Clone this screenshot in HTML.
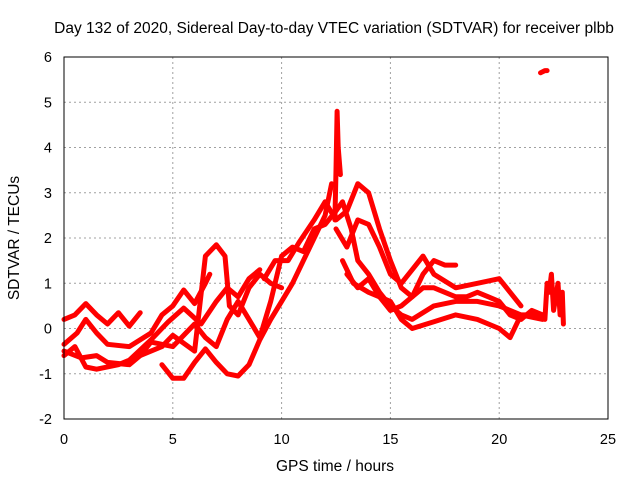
<!DOCTYPE html>
<html><head><meta charset="utf-8"><style>
body{margin:0;background:#fff;}
svg text{font-family:"Liberation Sans",sans-serif;fill:#000;}
</style></head><body>
<svg id="chart" width="640" height="480" xmlns="http://www.w3.org/2000/svg">
<text x="334" y="33" font-size="15.5" text-anchor="middle">Day 132 of 2020, Sidereal Day-to-day VTEC variation (SDTVAR) for receiver plbb</text>
<text x="335" y="471" font-size="15.5" text-anchor="middle">GPS time / hours</text>
<text x="0" y="0" font-size="15.5" text-anchor="middle" transform="translate(19,238) rotate(-90)">SDTVAR / TECUs</text>
<g id="grid"></g>
<g id="marks"></g>
<rect x="64" y="57" width="544" height="362" fill="none" stroke="#000" stroke-width="1"/>
<g id="ticks"></g>
</svg>
<script>
const xTicks=[0,5,10,15,20,25];
const yTicks=[-2,-1,0,1,2,3,4,5,6];
const t1=[[0,0.2],[0.5,0.3],[1,0.55],[1.5,0.3],[2,0.1],[2.5,0.35],[3,0.05],[3.5,0.35]];
const t2=[[0,-0.35],[0.6,-0.1],[1,0.2],[1.5,-0.1],[2,-0.35],[3,-0.4],[4,-0.1],[4.5,0.3],[5,0.5],[5.5,0.85],[6,0.55],[6.5,1.0],[6.7,1.2]];
const t3=[[0,-0.6],[0.5,-0.4],[1,-0.85],[1.5,-0.9],[2.5,-0.8],[3,-0.7],[4,-0.25],[4.8,0.15],[5.5,0.45],[6.3,0.1],[7,0.6],[7.5,0.9],[8,0.7],[8.5,1.1],[9,1.3]];
const t4=[[0,-0.5],[0.8,-0.65],[1.5,-0.6],[2,-0.75],[3,-0.8],[3.5,-0.6],[4.5,-0.4],[5,-0.15],[6,-0.5],[6.5,1.6],[7,1.85],[7.4,1.6],[7.6,0.5],[8,0.3],[8.5,0.9],[9,1.2],[9.5,1.0],[10,0.9]];
const t5=[[4.5,-0.8],[5,-1.1],[5.5,-1.1],[6,-0.75],[6.5,-0.45],[7,-0.75],[7.5,-1.0],[8,-1.05],[8.5,-0.8],[9,-0.25],[9.5,0.2],[10,0.6],[10.5,1.0],[11,1.5],[11.5,2.0],[12,2.5],[12.3,3.2]];
const t6=[[3.5,-0.6],[4,-0.3],[5,-0.4],[6,0.1],[6.5,-0.2],[7,-0.4],[7.5,0.2],[8,0.6],[8.5,0.2],[9,-0.2],[9.5,0.6],[10,1.6],[10.5,1.8],[11,1.7],[11.5,2.2],[12,2.3],[12.5,2.6],[12.8,2.8],[13.2,2.2],[13.5,1.5],[14,1.2],[14.5,0.8],[15,0.5],[15.5,0.3],[16,0.2],[17,0.5],[18,0.6],[19,0.6],[20,0.5],[21,0.3],[22,0.3]];
const t7=[[9.2,1.1],[9.7,1.5],[10.3,1.5],[10.8,1.9],[11.5,2.4],[12,2.8],[12.5,2.4],[13,2.6],[13.5,3.2],[14,3.0],[14.5,2.2],[15,1.5],[15.5,0.9],[16,0.7],[16.5,1.2],[17,1.5],[17.5,1.4],[18,1.4]];
const t8=[[12.5,2.2],[13,1.8],[13.5,2.4],[14,2.3],[14.5,1.8],[15,1.2],[15.5,1.0],[16,1.3],[16.5,1.6],[17,1.2],[18,0.9],[19,1.0],[20,1.1],[20.5,0.8],[21,0.5]];
const t9=[[13,1.2],[13.5,0.9],[14,1.1],[14.5,0.7],[15,0.4],[15.5,0.5],[16,0.7],[16.5,0.9],[17,0.9],[18,0.7],[18.5,0.7],[19,0.8],[19.5,0.7],[20,0.6],[20.5,0.3],[21,0.2],[21.5,0.4],[22,0.3]];
const t10=[[12.8,1.5],[13.3,1.0],[14,0.8],[15,0.6],[15.5,0.2],[16,0.0],[17,0.15],[18,0.3],[19,0.2],[20,0.0],[20.5,-0.2],[21,0.3],[22,0.2]];
const spike=[[12.45,2.4],[12.5,3.5],[12.55,4.8],[12.6,4.0],[12.7,3.4]];
const t11=[[22.1,0.2],[22.2,1.0],[22.3,0.8],[22.4,1.2],[22.5,0.4],[22.7,1.0],[22.8,0.3],[22.9,0.8],[22.95,0.1]];
const cluster=[[21.9,5.65],[22.1,5.7],[22.2,5.7]];
const tracks=[t1,t2,t3,t4,t5,t6,t7,t8,t9,t10,spike,t11,cluster];

const X=v=>64+v*(544/25), Y=v=>419-(v+2)*(362/8);
const NS="http://www.w3.org/2000/svg";
const grid=document.getElementById('grid'),ticks=document.getElementById('ticks'),marks=document.getElementById('marks');
function mk(t,a,p){const e=document.createElementNS(NS,t);for(const k in a)e.setAttribute(k,a[k]);p.appendChild(e);return e;}
xTicks.forEach(v=>{
 if(v>0&&v<25){const g=mk('line',{x1:X(v),x2:X(v),y1:57,y2:419,stroke:'#a0a0a0','stroke-dasharray':'2,3'},grid);
 
 }
 const t=mk('text',{x:X(v),y:444,'font-size':14.5,'text-anchor':'middle'},ticks);t.textContent=v;
 
 
});
yTicks.forEach(v=>{
 if(v>-2&&v<6){const g=mk('line',{x1:64,x2:608,y1:Y(v),y2:Y(v),stroke:'#a0a0a0','stroke-dasharray':'2,3'},grid);
 
 }
 const t=mk('text',{x:52,y:Y(v)+5,'font-size':14.5,'text-anchor':'end'},ticks);t.textContent=v;
 
 
});
tracks.forEach(tr=>{
 const d=tr.map((p,i)=>(i?'L':'M')+X(p[0]).toFixed(1)+','+Y(p[1]).toFixed(1)).join('');
 const e=mk('path',{d:d,fill:'none',stroke:'#ff0000','stroke-width':5,'stroke-linejoin':'round','stroke-linecap':'round'},marks);
 
 
});
</script>
</body></html>
